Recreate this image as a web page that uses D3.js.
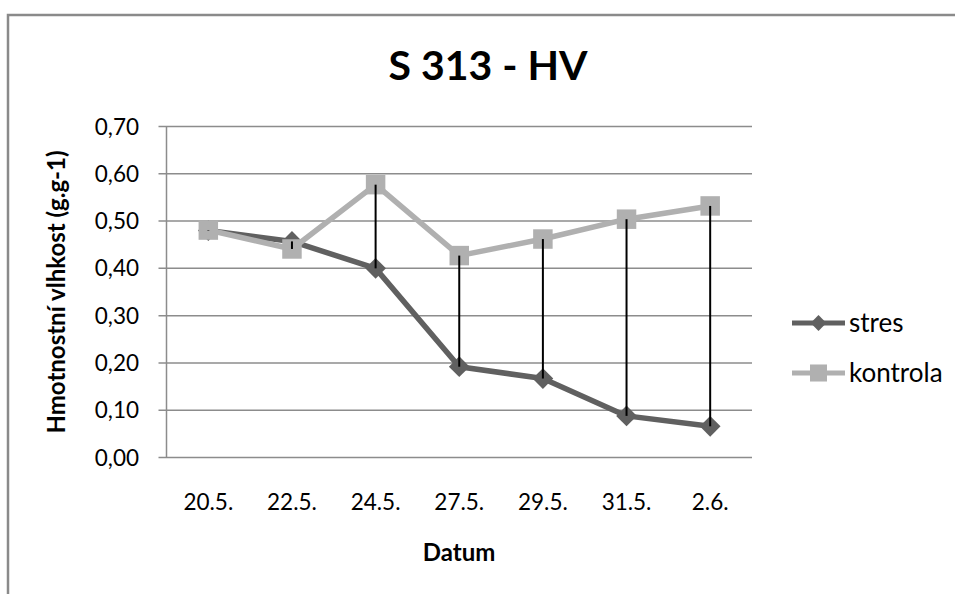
<!DOCTYPE html>
<html>
<head>
<meta charset="utf-8">
<script src="https://cdn.jsdelivr.net/npm/d3@7"></script>
<style>
  body { margin: 0; background: #fff; }
  svg { display: block; font-family: Lato, "Open Sans", sans-serif; }
</style>
</head>
<body>
<div class="d3"></div>
<script>
const dates = ['20.5.', '22.5.', '24.5.', '27.5.', '29.5.', '31.5.', '2.6.'];
const stres = [0.480, 0.457, 0.400, 0.192, 0.167, 0.088, 0.066];
const kontrola = [0.481, 0.441, 0.577, 0.427, 0.462, 0.504, 0.532];
const yTicks = [0, 0.1, 0.2, 0.3, 0.4, 0.5, 0.6, 0.7];

(() => {
  let width = 955, height = 594;
  let plotLeft = 166.5, plotRight = 752, plotTop = 126.5, plotBottom = 457.5;

  let svg = d3.select('.d3').append('svg')
    .attr('width', width)
    .attr('height', height);

  // outer frame (left + top only)
  svg.append('path')
    .attr('d', `M8,${height} V15 H${width}`)
    .attr('fill', 'none')
    .attr('stroke', '#8a8a8a')
    .attr('stroke-width', 2.5);

  let x = d3.scaleBand().domain(dates).range([plotLeft, plotRight]);
  let y = d3.scaleLinear().domain([0, 0.7]).range([plotBottom, plotTop]);
  let cx = d => x(d) + x.bandwidth() / 2;

  // gridlines
  svg.append('g')
    .selectAll('line')
    .data(yTicks)
    .enter()
    .append('line')
    .attr('x1', plotLeft - 8)
    .attr('x2', plotRight)
    .attr('y1', d => y(d))
    .attr('y2', d => y(d))
    .attr('stroke', '#8c8c8c')
    .attr('stroke-width', 1.5);

  // y axis line
  svg.append('line')
    .attr('x1', plotLeft).attr('x2', plotLeft)
    .attr('y1', plotTop).attr('y2', plotBottom)
    .attr('stroke', '#8c8c8c')
    .attr('stroke-width', 1.5);

  // y tick labels
  svg.append('g')
    .selectAll('text')
    .data(yTicks)
    .enter()
    .append('text')
    .attr('x', 139)
    .attr('y', d => y(d))
    .attr('dy', '0.36em')
    .attr('text-anchor', 'end')
    .attr('font-size', 22.5)
    .text(d => d3.format('.2f')(d).replace('.', ','));

  // x labels
  svg.append('g')
    .selectAll('text')
    .data(dates)
    .enter()
    .append('text')
    .attr('x', d => cx(d))
    .attr('y', 510)
    .attr('text-anchor', 'middle')
    .attr('font-size', 22.5)
    .text(d => d);

  let line = d3.line()
    .x((d, i) => cx(dates[i]))
    .y(d => y(d));

  let series = [
    { name: 'stres', values: stres, color: '#606060', rot: 45, size: 215, legendSize: 125 },
    { name: 'kontrola', values: kontrola, color: '#b0b0b0', rot: 0, size: 380, legendSize: 290 }
  ];

  series.forEach(s => {
    let g = svg.append('g');
    g.append('path')
      .attr('d', line(s.values))
      .attr('fill', 'none')
      .attr('stroke', s.color)
      .attr('stroke-width', 5.5)
      .attr('stroke-linejoin', 'round');
    g.selectAll('path.m')
      .data(s.values)
      .enter()
      .append('path')
      .attr('class', 'm')
      .attr('transform', (d, i) => `translate(${cx(dates[i])},${y(d)}) rotate(${s.rot})`)
      .attr('d', d3.symbol().type(d3.symbolSquare).size(s.size))
      .attr('fill', s.color);
  });

  // high-low lines
  svg.append('g')
    .selectAll('line')
    .data(dates)
    .enter()
    .append('line')
    .attr('x1', d => cx(d))
    .attr('x2', d => cx(d))
    .attr('y1', (d, i) => y(kontrola[i]))
    .attr('y2', (d, i) => y(stres[i]))
    .attr('stroke', '#000')
    .attr('stroke-width', 2);

  // title
  svg.append('text')
    .attr('x', 488)
    .attr('y', 80)
    .attr('text-anchor', 'middle')
    .attr('font-size', 41)
    .attr('font-weight', 'bold')
    .text('S 313 - HV');

  // axis titles
  svg.append('text')
    .attr('transform', 'translate(56,292) rotate(-90)')
    .attr('dy', '0.36em')
    .attr('text-anchor', 'middle')
    .attr('font-size', 24)
    .attr('font-weight', 'bold')
    .text('Hmotnostní vlhkost (g.g-1)');

  svg.append('text')
    .attr('x', 459)
    .attr('y', 561)
    .attr('text-anchor', 'middle')
    .attr('font-size', 24)
    .attr('font-weight', 'bold')
    .text('Datum');

  // legend
  let legend = svg.append('g')
    .selectAll('g')
    .data(series)
    .enter()
    .append('g')
    .attr('transform', (d, i) => `translate(792,${323 + i * 50})`);

  legend.append('line')
    .attr('x1', 0).attr('x2', 53)
    .attr('stroke', d => d.color)
    .attr('stroke-width', 5);

  legend.append('path')
    .attr('transform', d => `translate(26.5,0) rotate(${d.rot})`)
    .attr('d', d => d3.symbol().type(d3.symbolSquare).size(d.legendSize)())
    .attr('fill', d => d.color);

  legend.append('text')
    .attr('x', 57)
    .attr('dy', '0.36em')
    .attr('font-size', 26)
    .text(d => d.name);
})();
</script>
</body>
</html>
